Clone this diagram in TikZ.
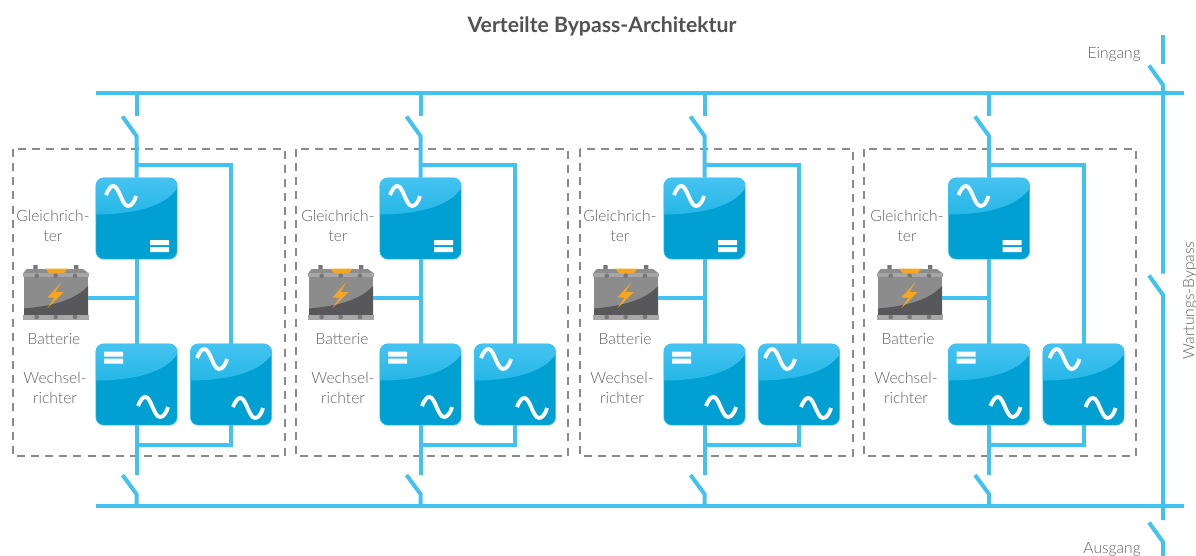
\documentclass[tikz,border=0pt]{standalone}
\usepackage{fontspec}
\setmainfont{Lato Light}[BoldFont=Lato Bold]
\usetikzlibrary{calc}
\definecolor{busblue}{HTML}{42C2F0}
\definecolor{upsbase}{HTML}{00A0D3}
\definecolor{upstop}{HTML}{45C3F1}
\definecolor{upsmid}{HTML}{00A8DC}
\definecolor{txtgray}{HTML}{606060}
\definecolor{boxgray}{HTML}{8A8A8A}
\definecolor{batlid}{HTML}{A6A6A6}
\definecolor{batbody}{HTML}{8C8C8C}
\definecolor{batdark}{HTML}{58585A}
\definecolor{batpost}{HTML}{777777}
\definecolor{batorange}{HTML}{F5A623}
\tikzset{
	busline/.style={draw=busblue, line width=3pt},
	upsbox/.style={fill=upsbase, draw=busblue, line width=.4pt, rounded corners=6pt, minimum width=61pt, minimum height=61pt, inner sep=0pt,
		path picture={\shade[sharp corners, top color=upstop, bottom color=upsmid] (-41,-41)--(41,-41)--(41,-31) .. controls (29,-11) and (-6,-4) .. (-41,-4)--cycle;}},
	batbox/.style={minimum width=48pt, minimum height=41.25pt, inner sep=0pt},
	batpic/.pic={
		\fill[batpost] (10.3,0) rectangle (14.7,6) (51,0) rectangle (55.3,6);
		\fill[batlid!85!black] (3.7,4)--(60,4)--(66,8.5)--(0,8.5)--cycle;
		\fill[batorange] (22,3.5)--(44.7,3.5)--(41,8)--(26,8)--cycle;
		\fill[batlid] (0,8) rectangle (66,12);
		\fill[batbody] (1,12) rectangle (65,50);
		\fill[batdark] (1,43.5) .. controls (30,41) and (52,35) .. (65,21)--(65,50)--(1,50)--cycle;
		\fill[batlid] (0,50) rectangle (66,55);
		\foreach \sx in {13.7,32.7,52}{\fill[batpost] (\sx,10.7) circle (2.3) (\sx,52) circle (2.3);}
		\fill[batorange] (38.5,17)--(24.5,32.5)--(31.5,32.5)--(24.5,43)--(40.5,27)--(32.5,27)--cycle;
	},
	lbl/.style={text=txtgray, font=\fontsize{11.7}{15}\selectfont, align=center, inner sep=0pt},
	acwave/.pic={\draw[white, line width=2.9pt] (-15,-1) .. controls (-12,-8) and (-10,-10) .. (-7.5,-10) .. controls (-2,-10) and (1,10) .. (7,10) .. controls (10,10) and (13,7) .. (15,0);},
	dcsign/.pic={\fill[white] (0,0) rectangle (19,5) (0,7) rectangle (19,12);}
}
\begin{document}
\begin{tikzpicture}[x=.75pt, y=-.75pt]
	\useasboundingbox (0,0) rectangle (1196,556);
	\node[text=txtgray!85!black, font=\fontsize{15.9}{18}\selectfont\bfseries] (title) at (602,26) {Verteilte Bypass-Architektur};
	\coordinate (busTL) at (96,93.3); \coordinate (busTR) at (1184,93.3);
	\coordinate (busBL) at (96,506); \coordinate (busBR) at (1184,506);
	\draw[busline] (busTL)--(busTR);
	\draw[busline] (busBL)--(busBR);
	\foreach \n/\cx/\bl/\br/\gx/\bx/\wx/\batx in {1/136.5/13/285/53/54/55/23, 2/420.5/296/568/338/342/343/308, 3/704.5/580/853/620/625/622/593, 4/989/864/1136/907/908/906/877}{
		\draw[boxgray, line width=1.1pt, dash pattern=on 6pt off 4.6pt] (\bl,149) rectangle (\br,456);
		\node[upsbox] (gr\n) at (\cx,218.5) {};
		\node[upsbox] (wr\n) at (\cx,384.5) {};
		\node[upsbox] (sb\n) at (\cx+94.5,384.5) {};
		\pic at (\batx,265) {batpic};
		\node[batbox] (bat\n) at (\batx+33,292.5) {};
		\pic at (\cx-15.5,196) {acwave};
		\pic at (\cx+13.5,240) {dcsign};
		\pic at (\cx-32.5,351.5) {dcsign};
		\pic at (\cx+16.5,407) {acwave};
		\pic at (\cx+75.5,359) {acwave};
		\pic at (\cx+111.5,408) {acwave};
		\node[lbl] (gl\n) at (\gx,226) {Gleichrich-\\ter};
		\node[lbl] (ba\n) at (\bx,339) {Batterie};
		\node[lbl] (we\n) at (\wx,388) {Wechsel-\\richter};
		\coordinate (in\n) at (\cx,93.3);
		\coordinate (st\n) at (\cx,115.7);
		\coordinate (bt\n) at (\cx-14,116.5);
		\coordinate (kn\n) at (\cx,136);
		\coordinate (sp\n) at (\cx,164.7);
		\coordinate (tap\n) at (\cx,297.5);
		\coordinate (jn\n) at (\cx,445);
		\coordinate (ou\n) at (\cx,475);
		\coordinate (bb\n) at (\cx-14,475);
		\coordinate (kb\n) at (\cx,494);
		\coordinate (bu\n) at (\cx,506);
		\draw[busline] (in\n)--(st\n);
		\draw[busline] (bt\n)--(kn\n)--(gr\n.north);
		\draw[busline] (sp\n)-|(sb\n.north);
		\draw[busline] (gr\n.south)--(wr\n.north);
		\draw[busline] (tap\n)--(tap\n -| bat\n.east);
		\draw[busline] (wr\n.south)--(ou\n);
		\draw[busline] (jn\n)-|(sb\n.south);
		\draw[busline] (bb\n)--(kb\n)--(bu\n);
	}
	\coordinate (byA) at (1163,35); \coordinate (byB) at (1163,64);
	\coordinate (byC) at (1149,65.5); \coordinate (byD) at (1163,85); \coordinate (byE) at (1163,273.5);
	\coordinate (byF) at (1149,275.5); \coordinate (byG) at (1163,295); \coordinate (byH) at (1163,520);
	\coordinate (byI) at (1149,522.5); \coordinate (byJ) at (1163,542); \coordinate (byK) at (1163,556);
	\draw[busline] (byA)--(byB);
	\draw[busline] (byC)--(byD)--(byE);
	\draw[busline] (byF)--(byG)--(byH);
	\draw[busline] (byI)--(byJ)--(byK);
	\node[lbl, anchor=east] (ein) at (1141,54) {Eingang};
	\node[lbl, anchor=east] (aus) at (1141,549) {Ausgang};
	\node[lbl, rotate=90] (wart) at (1190,300.5) {Wartungs-Bypass};
\end{tikzpicture}
\end{document}
